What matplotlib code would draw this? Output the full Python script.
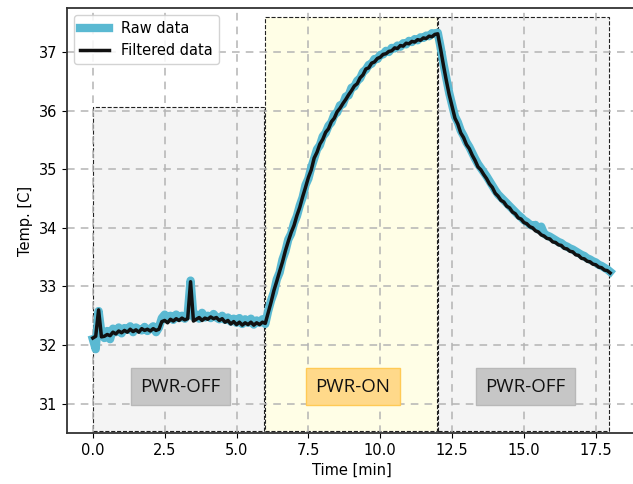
import numpy as np
import matplotlib
matplotlib.use("Agg")
import matplotlib.pyplot as plt
from matplotlib.patches import Rectangle

# sampled every 0.1 min, 0 .. 18 min
time_min = np.round(np.arange(181) * 0.1, 1)

# filtered temperature [C]
filt_off1 = [32.12, 32.15, 32.60, 32.14, 32.15, 32.18, 32.16, 32.22, 32.19, 32.24,
             32.21, 32.25, 32.22, 32.27, 32.23, 32.26, 32.22, 32.28, 32.25, 32.27,
             32.24, 32.28, 32.25, 32.27, 32.40, 32.42, 32.38, 32.44, 32.41, 32.45,
             32.42, 32.46, 32.43, 32.45, 33.08, 32.41, 32.44, 32.47, 32.42, 32.46,
             32.44, 32.48, 32.45, 32.47, 32.42, 32.45, 32.39, 32.42, 32.36, 32.40,
             32.35, 32.39, 32.34, 32.38, 32.35, 32.39, 32.34, 32.38, 32.35, 32.39,
             32.37]
filt_on = [32.55, 32.73, 32.93, 33.09, 33.26, 33.42, 33.61, 33.77, 33.92, 34.04,
           34.21, 34.35, 34.53, 34.69, 34.86, 34.99, 35.19, 35.29, 35.43, 35.51,
           35.63, 35.69, 35.81, 35.87, 35.98, 36.04, 36.12, 36.19, 36.27, 36.34,
           36.42, 36.46, 36.56, 36.61, 36.71, 36.73, 36.81, 36.83, 36.89, 36.91,
           36.96, 36.97, 37.01, 37.02, 37.07, 37.06, 37.11, 37.10, 37.15, 37.14,
           37.18, 37.17, 37.21, 37.20, 37.24, 37.23, 37.27, 37.26, 37.30, 37.31]
filt_off2 = [37.05, 36.77, 36.51, 36.27, 36.07, 35.87, 35.77, 35.62, 35.54, 35.42,
             35.35, 35.24, 35.15, 35.04, 34.99, 34.91, 34.84, 34.75, 34.69, 34.59,
             34.54, 34.47, 34.44, 34.37, 34.34, 34.27, 34.24, 34.17, 34.15, 34.09,
             34.07, 34.02, 34.00, 33.95, 33.93, 33.88, 33.86, 33.82, 33.81, 33.76,
             33.75, 33.71, 33.70, 33.65, 33.64, 33.60, 33.59, 33.54, 33.53, 33.48,
             33.47, 33.43, 33.42, 33.38, 33.37, 33.33, 33.32, 33.28, 33.27, 33.23]

# raw temperature [C]
raw_off1 = [32.10, 31.93, 32.58, 32.20, 32.12, 32.24, 32.10, 32.28, 32.22, 32.30,
            32.20, 32.29, 32.26, 32.32, 32.22, 32.30, 32.27, 32.25, 32.31, 32.24,
            32.28, 32.32, 32.22, 32.30, 32.46, 32.52, 32.44, 32.50, 32.43, 32.52,
            32.46, 32.50, 32.45, 32.52, 33.10, 32.48, 32.52, 32.45, 32.55, 32.47,
            32.50, 32.46, 32.53, 32.47, 32.44, 32.50, 32.43, 32.47, 32.40, 32.45,
            32.38, 32.46, 32.36, 32.44, 32.38, 32.45, 32.35, 32.42, 32.38, 32.44,
            32.36]
raw_on = [32.58, 32.76, 32.90, 33.12, 33.24, 33.46, 33.60, 33.80, 33.90, 34.08,
          34.20, 34.38, 34.52, 34.73, 34.84, 35.03, 35.18, 35.34, 35.41, 35.56,
          35.62, 35.74, 35.80, 35.93, 35.97, 36.09, 36.11, 36.24, 36.26, 36.39,
          36.41, 36.51, 36.55, 36.66, 36.70, 36.78, 36.80, 36.88, 36.88, 36.95,
          36.96, 37.02, 37.00, 37.07, 37.06, 37.11, 37.09, 37.15, 37.13, 37.19,
          37.17, 37.22, 37.20, 37.25, 37.24, 37.28, 37.27, 37.32, 37.31, 37.33]
raw_off2 = [37.08, 36.80, 36.55, 36.30, 36.10, 35.90, 35.80, 35.66, 35.57, 35.46,
            35.38, 35.28, 35.18, 35.09, 35.02, 34.95, 34.88, 34.80, 34.72, 34.64,
            34.57, 34.52, 34.47, 34.42, 34.37, 34.32, 34.27, 34.22, 34.18, 34.13,
            34.10, 34.06, 34.03, 34.05, 33.97, 34.02, 33.90, 33.87, 33.85, 33.82,
            33.79, 33.76, 33.74, 33.70, 33.68, 33.65, 33.63, 33.60, 33.57, 33.54,
            33.52, 33.48, 33.46, 33.43, 33.41, 33.37, 33.35, 33.32, 33.29, 33.25]

filtered = np.array(filt_off1 + filt_on + filt_off2)
raw = np.array(raw_off1 + raw_on + raw_off2)

# phases: start, end [min], box top [C], label
phase_start = [0, 6, 12]
phase_end = [6, 12, 18]
phase_top = [36.06, 37.6, 37.6]
phase_label = ["PWR-OFF", "PWR-ON", "PWR-OFF"]

fig = plt.figure(figsize=(6.33, 4.84), dpi=100)
ax = fig.add_axes([0.1058, 0.1054, 0.899, 0.878])

box_bottom = 30.54
for s, e, top, lab in zip(phase_start, phase_end, phase_top, phase_label):
    on = lab == "PWR-ON"
    ax.add_patch(Rectangle((s, box_bottom), e - s - 0.03, top - box_bottom,
                           facecolor="#fffee6" if on else "#f4f4f4",
                           edgecolor="#222222", linestyle="--", linewidth=0.8,
                           zorder=1))
    ax.text((s + e) / 2 + 0.05, 31.29, lab, ha="center", va="center",
            fontsize=13.5, family="Open Sans", color="#111111",
            bbox=dict(boxstyle="square,pad=0.5",
                      facecolor="#ffd98a" if on else "#c6c6c6",
                      edgecolor="#ffca55" if on else "#b8b8b8"),
            zorder=4)

ax.plot(time_min, raw, color="#5ab9d2", linewidth=6, label="Raw data", zorder=2)
ax.plot(time_min, filtered, color="#111111", linewidth=2.5, label="Filtered data",
        zorder=3)

ax.set_xlim(-0.9, 18.9)
ax.set_ylim(30.5, 37.75)
ax.set_xticks([0, 2.5, 5, 7.5, 10, 12.5, 15, 17.5])
ax.set_yticks([31, 32, 33, 34, 35, 36, 37])
ax.tick_params(labelsize=10.5)
ax.grid(True, linestyle=(0, (5, 4)), color="#b4b4b4", linewidth=1.1)
ax.set_xlabel("Time [min]", fontsize=10.5)
ax.set_ylabel("Temp. [C]", fontsize=10.5)
for sp in ax.spines.values():
    sp.set_linewidth(1.3)
    sp.set_color("#333333")

leg = ax.legend(loc="upper left", fontsize=10.5, framealpha=0.85)

fig.savefig("out.png", dpi=100)
